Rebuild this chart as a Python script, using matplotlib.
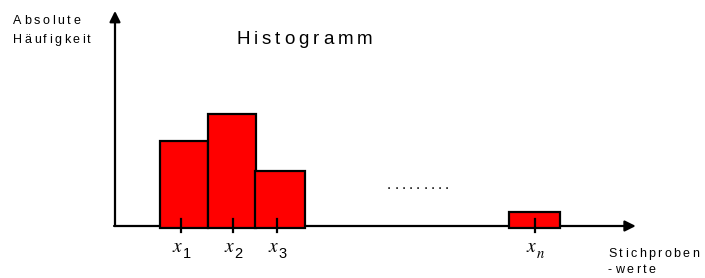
import matplotlib
matplotlib.use("Agg")
import matplotlib.pyplot as plt

plt.rcParams['font.family'] = ['Liberation Sans', 'DejaVu Sans']
plt.rcParams['mathtext.fontset'] = 'stix'

# histogram data (class left edges, widths, absolute frequencies)
bar_left = [0.94, 1.94, 2.92, 8.2]
bar_width = [1.0, 1.0, 1.04, 1.08]
bar_height = [3.05, 4.0, 2.0, 0.55]
# sample values x_i (tick positions) and labels
tick_pos = [1.375, 2.46, 3.375, 8.75]
tick_labels = ['1', '2', '3', 'n']

W, H = 705, 278
PX_X, PX_Y = 48.0, 28.3   # pixels per data unit
OX, OY = 115, 226         # origin in pixels

fig = plt.figure(figsize=(W / 100, H / 100), dpi=100)
ax = fig.add_axes([0, 0, 1, 1])
ax.set_xlim(-OX / PX_X, (W - OX) / PX_X)
ax.set_ylim(-(H - OY) / PX_Y, OY / PX_Y)
ax.axis('off')

# axes with arrows
arrow = dict(arrowstyle='-|>', lw=1.6, color='black', mutation_scale=16,
             shrinkA=0, shrinkB=0)
ax.annotate('', xy=(0, 7.6), xytext=(0, 0), arrowprops=arrow, zorder=1)
ax.annotate('', xy=(10.85, 0), xytext=(-0.02, 0), arrowprops=arrow, zorder=1)

# bars
ax.bar(bar_left, bar_height, width=bar_width, bottom=-0.06, align='edge',
       color='#ff0000', edgecolor='black', linewidth=1.6, zorder=2)

# tick marks and labels x_i
for p, lab in zip(tick_pos, tick_labels):
    ax.plot([p, p], [-0.22, 0.25], color='black', lw=1.6, zorder=3)
    ax.text(p - 0.08, -0.92, '$x$', fontsize=14, ha='center', va='baseline')
    sub = '$' + lab + '$' if lab == 'n' else lab
    ax.text(p + 0.03, -1.12, sub, fontsize=10.5, ha='left', va='baseline',
            family='Liberation Serif' if lab == 'n' else 'Liberation Sans')


def tracked(px, py, s, size, track):
    # draw text letter by letter with extra spacing (pixel coords)
    r = fig.canvas.get_renderer()
    cx = px
    for ch in s:
        t = fig.text(cx / W, 1 - py / H, ch, fontsize=size, va='baseline')
        cx += t.get_window_extent(r).width + track


tracked(13, 24, 'Absolute', 9, 2.6)
tracked(13, 43, 'Häufigkeit', 9, 2.4)
tracked(236, 44, 'Histogramm', 13.5, 4.0)
tracked(608, 257, 'Stichproben', 9, 2.4)
tracked(608, 273, '-werte', 9, 2.6)
tracked(387, 189, '.........', 11, 3.1)

fig.savefig('out.png', dpi=100)
